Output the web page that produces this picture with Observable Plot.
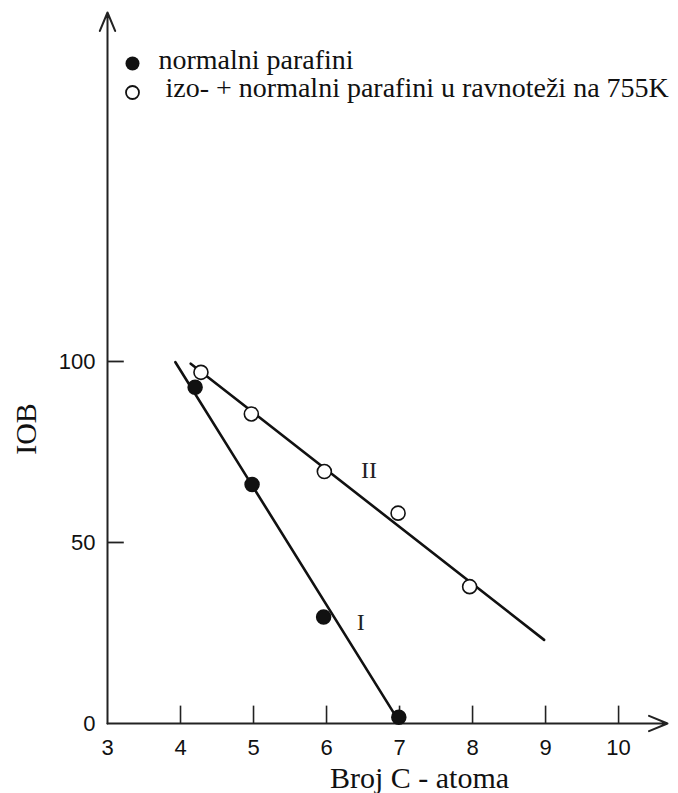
<!DOCTYPE html>
<html>
<head>
<meta charset="utf-8">
<script src="https://cdn.jsdelivr.net/npm/d3@7"></script>
<script src="https://cdn.jsdelivr.net/npm/@observablehq/plot@0.6"></script>
<style>
  html, body { margin: 0; padding: 0; background: #fff; }
</style>
</head>
<body>
<div id="chart"></div>
<script>
// ---- data ----
const xDomain = [3, 10.67];
const yDomain = [0, 196.4];
const xTickLabels = [3, 4, 5, 6, 7, 8, 9, 10];
const xTickMarks = [4, 5, 6, 7, 8, 9, 10];
const yTickLabels = [0, 50, 100];
const yTickMarks = [50, 100];

// series I: normalni parafini (filled)
const normalX = [4.2, 4.98, 5.96, 6.99];
const normalY = [92.9, 66.0, 29.4, 1.7];
// series II: izo- + normalni parafini u ravnoteži na 755K (open)
const isoX = [4.28, 4.97, 5.97, 6.98, 7.96];
const isoY = [97.0, 85.5, 69.6, 58.1, 37.8];

// fitted lines as drawn in the figure (end points)
const lineIX = [3.93, 6.98];
const lineIY = [99.8, 1.0];
const lineIIX = [4.14, 8.98];
const lineIIY = [99.4, 23.1];

const lineLabels = ["II", "I"];
const lineLabelX = [6.58, 6.47];
const lineLabelY = [69.9, 28.0];

const legendLabels = ["normalni parafini", "izo- + normalni parafini u ravnoteži na 755K"];
const xTitle = "Broj C - atoma";
const yTitle = "IOB";

// ---- build tables ----
const normalPts = normalX.map((x, i) => ({x, y: normalY[i]}));
const isoPts = isoX.map((x, i) => ({x, y: isoY[i]}));
const lineI = lineIX.map((x, i) => ({x, y: lineIY[i]}));
const lineII = lineIIX.map((x, i) => ({x, y: lineIIY[i]}));
const labelPts = lineLabels.map((t, i) => ({t, x: lineLabelX[i], y: lineLabelY[i]}));
const axisArrows = [
  {x1: xDomain[0], y1: yDomain[0], x2: xDomain[1], y2: yDomain[0]},
  {x1: xDomain[0], y1: yDomain[0], x2: xDomain[0], y2: yDomain[1]}
];
const xTickLen = 4.8;   // in y units
const yTickLen = 0.23;  // in x units

const serif = "'Liberation Serif', 'Times New Roman', serif";
const sans = "'Liberation Sans', Arial, sans-serif";

const chart = Plot.plot({
  width: 678,
  height: 793,
  marginLeft: 107,
  marginRight: 11,
  marginTop: 12,
  marginBottom: 70,
  style: {fontFamily: sans, background: "#fff", color: "#111"},
  x: {domain: xDomain},
  y: {domain: yDomain},
  marks: [
    Plot.axisX({ticks: xTickLabels, tickSize: 0, tickPadding: 16, fontSize: 22, label: null, tickFormat: d => String(d)}),
    Plot.axisY({ticks: yTickLabels, tickSize: 0, tickPadding: 12, fontSize: 22, label: null, tickFormat: d => String(d)}),
    Plot.ruleX(xTickMarks, {x: d => d, y1: yDomain[0], y2: yDomain[0] + xTickLen, stroke: "#222", strokeWidth: 1.6}),
    Plot.ruleY(yTickMarks, {y: d => d, x1: xDomain[0], x2: xDomain[0] + yTickLen, stroke: "#222", strokeWidth: 1.8}),
    Plot.arrow(axisArrows, {x1: "x1", y1: "y1", x2: "x2", y2: "y2", stroke: "#222", strokeWidth: 2, headLength: 15, headAngle: 45}),
    Plot.line(lineI, {x: "x", y: "y", stroke: "#111", strokeWidth: 2.6}),
    Plot.line(lineII, {x: "x", y: "y", stroke: "#111", strokeWidth: 2.6}),
    Plot.dot(isoPts, {x: "x", y: "y", r: 7, fill: "#fff", stroke: "#111", strokeWidth: 1.6}),
    Plot.dot(normalPts, {x: "x", y: "y", r: 7, fill: "#111", stroke: "#111"}),
    Plot.text(labelPts, {x: "x", y: "y", text: "t", fontFamily: serif, fontSize: 24, fill: "#222"}),
    // legend
    Plot.dot([legendLabels[0]], {frameAnchor: "top-left", dx: 25, dy: 51, r: 7, fill: "#111"}),
    Plot.dot([legendLabels[1]], {frameAnchor: "top-left", dx: 25, dy: 80, r: 6.5, fill: "#fff", stroke: "#111", strokeWidth: 1.8}),
    Plot.text([legendLabels[0]], {frameAnchor: "top-left", text: d => d, dx: 51, dy: 48, textAnchor: "start", lineAnchor: "middle", fontFamily: serif, fontSize: 28, fill: "#111"}),
    Plot.text([legendLabels[1]], {frameAnchor: "top-left", text: d => d, dx: 58, dy: 76, textAnchor: "start", lineAnchor: "middle", fontFamily: serif, fontSize: 28, fill: "#111"}),
    // axis titles
    Plot.text([xTitle], {frameAnchor: "bottom", text: d => d, dx: 32, dy: 55, textAnchor: "middle", lineAnchor: "middle", fontFamily: serif, fontSize: 30, fill: "#111"}),
    Plot.text([yTitle], {frameAnchor: "left", text: d => d, dx: -81, dy: 61, rotate: -90, textAnchor: "middle", lineAnchor: "middle", fontFamily: serif, fontSize: 30, fill: "#111"})
  ]
});
document.getElementById("chart").appendChild(chart);
</script>
</body>
</html>
